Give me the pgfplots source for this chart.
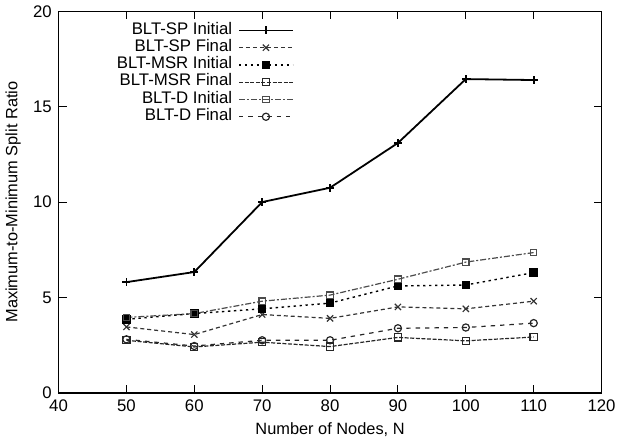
\documentclass[border=0pt]{standalone}
\usepackage{pgfplots}
\pgfplotsset{compat=1.18}
\usepackage{fontspec}
\setmainfont{Liberation Sans}
\begin{document}
\fontsize{8.2}{9.5}\selectfont
\begin{tikzpicture}
\begin{axis}[
  scale only axis,
  width=272pt, height=191pt,
  xmin=40, xmax=120, ymin=0, ymax=20,
  xtick={40,50,...,120}, ytick={0,5,10,15,20},
  /pgf/number format/assume math mode=true,
  tick label style={font=\fontsize{8.4}{9.5}\selectfont},
  xticklabel style={yshift=-0.8pt},
  yticklabel style={xshift=-0.5pt},
  label style={font=\fontsize{8.2}{9.5}\selectfont},
  xlabel={Number of Nodes, N},
  ylabel={Maximum-to-Minimum Split Ratio},
  xlabel style={yshift=0.3pt},
  ylabel style={yshift=0.5pt},
  axis line style={line width=0.8pt},
  tick style={black, line width=0.5pt},
  major tick length=4pt,
  legend style={at={(axis description cs:0.434,1)}, anchor=north east, yshift=-5pt,
    draw=none, fill=none, inner sep=0pt, row sep=0pt, column sep=3pt,
    font=\fontsize{8.4}{9.5}\selectfont,
    nodes={inner sep=0pt, text height=6.2pt, text depth=2.45pt}},
  legend cell align=right,
  legend plot pos=right,
  legend image code/.code={\draw[#1] (0pt,0pt) -- (27pt,0pt); \draw[#1, solid] plot coordinates {(13.5pt,0pt)};},
  every axis plot/.append style={mark size=2pt, mark options={solid}},
]
\addplot[black, line width=0.9pt, mark=+] coordinates {(50,5.8) (60,6.33) (70,10.0) (80,10.75) (90,13.1) (100,16.45) (110,16.4)};
\addlegendentry{BLT-SP Initial}
\addplot[black!80, line width=0.6pt, dash pattern=on 2pt off 1.5pt, mark=x, mark size=2.2pt] coordinates {(50,3.45) (60,3.05) (70,4.1) (80,3.9) (90,4.5) (100,4.4) (110,4.8)};
\addlegendentry{BLT-SP Final}
\addplot[black, line width=0.7pt, dash pattern=on 1.2pt off 1.8pt, mark=square*, mark size=1.8pt] coordinates {(50,3.85) (60,4.15) (70,4.4) (80,4.7) (90,5.6) (100,5.65) (110,6.3)};
\addlegendentry{BLT-MSR Initial}
\addplot[black!85, line width=0.6pt, dash pattern=on 2pt off 0.8pt, mark=square, mark size=1.8pt] coordinates {(50,2.75) (60,2.4) (70,2.65) (80,2.42) (90,2.9) (100,2.72) (110,2.92)};
\addlegendentry{BLT-MSR Final}
\addplot[black!70, line width=0.6pt, dash pattern=on 3pt off 1pt on 1pt off 1pt, mark=square, mark size=1.6pt] coordinates {(50,3.95) (60,4.15) (70,4.8) (80,5.12) (90,5.95) (100,6.85) (110,7.35)};
\addlegendentry{BLT-D Initial}
\addplot[black!85, line width=0.6pt, dash pattern=on 2.2pt off 2.5pt, mark=o, mark size=1.8pt] coordinates {(50,2.8) (60,2.45) (70,2.75) (80,2.75) (90,3.38) (100,3.42) (110,3.65)};
\addlegendentry{BLT-D Final}
\end{axis}
\end{tikzpicture}
\end{document}
